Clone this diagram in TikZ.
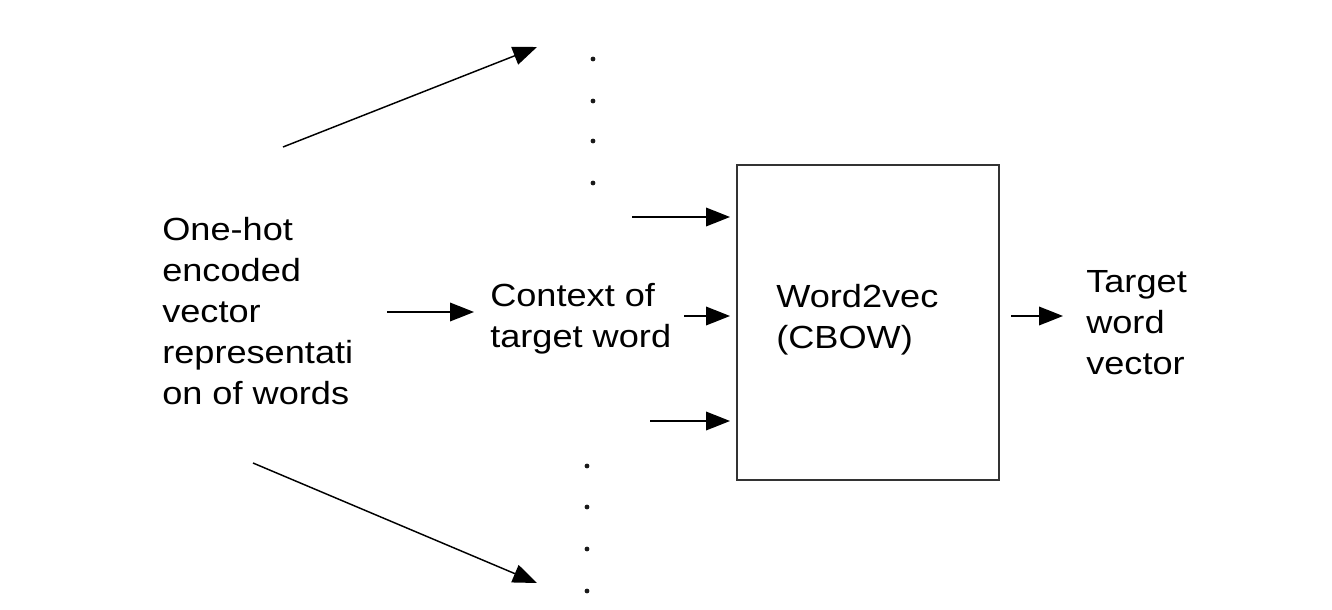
\documentclass[tikz,border=0pt]{standalone}
\usepackage{fontspec}
\setmainfont[FakeStretch=1.13]{Liberation Sans}
\usetikzlibrary{arrows.meta}
\tikzset{
  lbl/.style={anchor=base west, inner sep=0pt, font=\fontsize{24}{30.75}\selectfont, text=black},
  arr/.style={line width=1.1pt, -{Triangle[length=18pt,width=14pt]}},
  dotmark/.style={circle, fill=black!90, inner sep=0pt, minimum size=3.6pt},
  mainbox/.style={draw=black!80, line width=1.2pt}
}
\newcommand{\lines}[1]{\begin{tabular}[t]{@{}l@{}}#1\end{tabular}}
\begin{document}
\begin{tikzpicture}[x=0.75pt,y=-0.75pt]
\useasboundingbox[fill=white] (0,0) rectangle (1332,610);
% box
\draw[mainbox] (737,165) rectangle (999,480);
% texts
\node[lbl] (onehot) at (162,240) {\lines{One-hot\\encoded\\vector\\representati\\on of words}};
\node[lbl] (context) at (490,306) {\lines{Context of\\target word}};
\node[lbl] (w2v) at (776,307) {\lines{Word2vec\\(CBOW)}};
\node[lbl] (target) at (1086,292) {\lines{Target\\word\\vector}};
% arrow endpoints
\coordinate (a1s) at (283,147); \coordinate (a1e) at (537,47);
\coordinate (a2s) at (253,463); \coordinate (a2e) at (537,583);
\coordinate (a3s) at (387,312); \coordinate (a3e) at (474,312);
\coordinate (a4s) at (684,316); \coordinate (a4e) at (730,316);
\coordinate (a5s) at (632,217); \coordinate (a5e) at (730,217);
\coordinate (a6s) at (650,421); \coordinate (a6e) at (730,421);
\coordinate (a7s) at (1011,316); \coordinate (a7e) at (1063,316);
\foreach \i in {1,...,7} {\draw[arr] (a\i s) -- (a\i e);}
% dots
\foreach \y [count=\k] in {59,101,141,183} {\node[dotmark] (dt\k) at (593,\y) {};}
\foreach \y [count=\k] in {466,507,549,591} {\node[dotmark] (db\k) at (587,\y) {};}
\end{tikzpicture}
\end{document}
